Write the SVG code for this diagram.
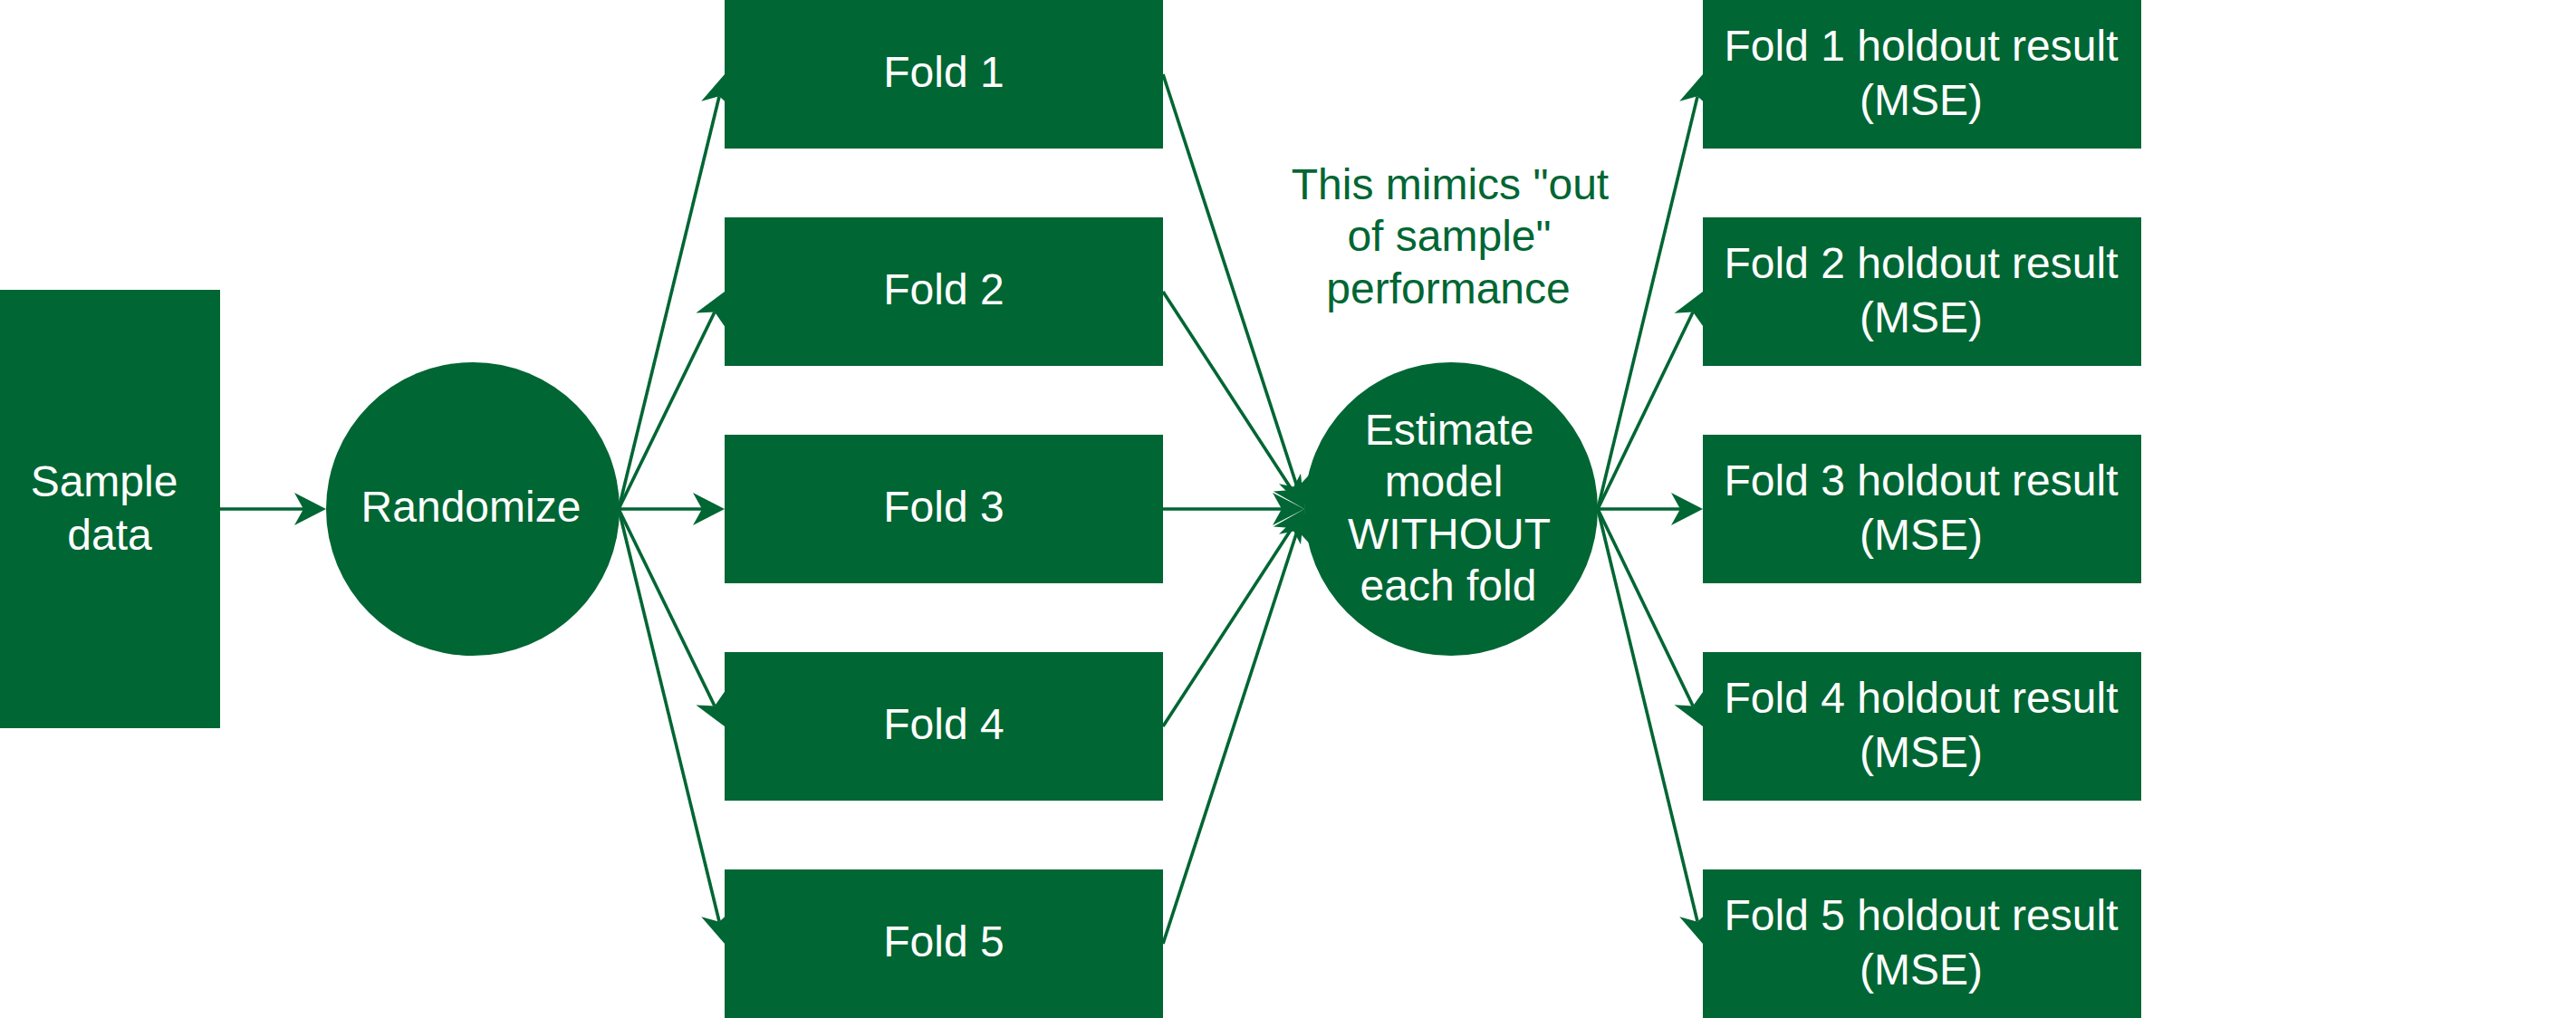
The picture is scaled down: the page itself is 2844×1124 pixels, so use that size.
<svg xmlns="http://www.w3.org/2000/svg" width="2844" height="1124" viewBox="0 0 2844 1124">
<style>
.box{fill:#006633;}
.lbl{font-family:"Liberation Sans",Arial,Helvetica,sans-serif;font-size:48px;fill:#ffffff;text-anchor:middle;}
.note{font-family:"Liberation Sans",Arial,Helvetica,sans-serif;font-size:48px;fill:#006633;text-anchor:middle;}
.edge{stroke:#006633;stroke-width:3.6;fill:none;marker-end:url(#arr);}
</style>
<defs>
<marker id="arr" markerUnits="userSpaceOnUse" viewBox="-12 -20 40 40" refX="0" refY="0" markerWidth="40" markerHeight="40" orient="auto" overflow="visible">
<path d="M25,0 L-10,-18 L0,0 L-10,18 Z" fill="#006633"/>
</marker>
</defs>
<rect width="2844" height="1124" fill="#ffffff"/>
<g id="connectors">
<line class="edge" x1="243" y1="562" x2="335" y2="562"/>
<line class="edge" x1="683" y1="562" x2="794.1" y2="106.3"/>
<line class="edge" x1="683" y1="562" x2="789.0" y2="344.5"/>
<line class="edge" x1="683" y1="562" x2="775" y2="562"/>
<line class="edge" x1="683" y1="562" x2="789.0" y2="779.5"/>
<line class="edge" x1="683" y1="562" x2="794.1" y2="1017.7"/>
<line class="edge" x1="1284" y1="82" x2="1432.3" y2="538.2"/>
<line class="edge" x1="1284" y1="322" x2="1426.4" y2="541.0"/>
<line class="edge" x1="1284" y1="562" x2="1415" y2="562"/>
<line class="edge" x1="1284" y1="802" x2="1426.4" y2="583.0"/>
<line class="edge" x1="1284" y1="1042" x2="1432.3" y2="585.8"/>
<line class="edge" x1="1764" y1="562" x2="1874.1" y2="106.3"/>
<line class="edge" x1="1764" y1="562" x2="1869.1" y2="344.5"/>
<line class="edge" x1="1764" y1="562" x2="1855" y2="562"/>
<line class="edge" x1="1764" y1="562" x2="1869.1" y2="779.5"/>
<line class="edge" x1="1764" y1="562" x2="1874.1" y2="1017.7"/>
</g>
<g id="sample">
<rect class="box" x="0" y="320" width="243" height="484"/>
<text class="lbl" x="115" y="548">Sample</text>
<text class="lbl" x="121" y="607">data</text>
</g>
<g id="randomize">
<circle class="box" cx="522" cy="562" r="162"/>
<text class="lbl" x="520" y="576">Randomize</text>
</g>
<g id="fold1"><rect class="box" x="800" y="0" width="484" height="164"/><text class="lbl" x="1042" y="96">Fold 1</text></g>
<g id="fold2"><rect class="box" x="800" y="240" width="484" height="164"/><text class="lbl" x="1042" y="336">Fold 2</text></g>
<g id="fold3"><rect class="box" x="800" y="480" width="484" height="164"/><text class="lbl" x="1042" y="576">Fold 3</text></g>
<g id="fold4"><rect class="box" x="800" y="720" width="484" height="164"/><text class="lbl" x="1042" y="816">Fold 4</text></g>
<g id="fold5"><rect class="box" x="800" y="960" width="484" height="164"/><text class="lbl" x="1042" y="1056">Fold 5</text></g>
<g id="estimate">
<circle class="box" cx="1602" cy="562" r="162"/>
<text class="lbl" x="1600" y="491">Estimate</text>
<text class="lbl" x="1594" y="548">model</text>
<text class="lbl" x="1600" y="606">WITHOUT</text>
<text class="lbl" x="1599" y="663">each fold</text>
</g>
<g id="note">
<text class="note" x="1601" y="220">This mimics "out</text>
<text class="note" x="1600" y="277">of sample"</text>
<text class="note" x="1599" y="335">performance</text>
</g>
<g id="result1"><rect class="box" x="1880" y="0" width="484" height="164"/><text class="lbl" x="2121" y="67">Fold 1 holdout result</text><text class="lbl" x="2121" y="127">(MSE)</text></g>
<g id="result2"><rect class="box" x="1880" y="240" width="484" height="164"/><text class="lbl" x="2121" y="307">Fold 2 holdout result</text><text class="lbl" x="2121" y="367">(MSE)</text></g>
<g id="result3"><rect class="box" x="1880" y="480" width="484" height="164"/><text class="lbl" x="2121" y="547">Fold 3 holdout result</text><text class="lbl" x="2121" y="607">(MSE)</text></g>
<g id="result4"><rect class="box" x="1880" y="720" width="484" height="164"/><text class="lbl" x="2121" y="787">Fold 4 holdout result</text><text class="lbl" x="2121" y="847">(MSE)</text></g>
<g id="result5"><rect class="box" x="1880" y="960" width="484" height="164"/><text class="lbl" x="2121" y="1027">Fold 5 holdout result</text><text class="lbl" x="2121" y="1087">(MSE)</text></g>
</svg>
